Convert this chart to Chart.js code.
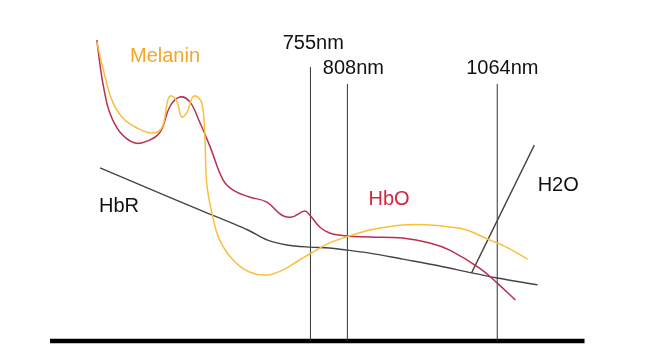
<!DOCTYPE html>
<html>
<head>
<meta charset="utf-8">
<title>Absorption spectra</title>
<script src="https://cdn.jsdelivr.net/npm/chart.js@4/dist/chart.umd.min.js"></script>
<style>
  html, body { margin: 0; padding: 0; background: #ffffff; }
  #wrap { width: 650px; height: 360px; position: relative; }
</style>
</head>
<body>
<div id="wrap"><canvas id="spectra"></canvas></div>
<script>
// wavelengths in nm, absorption in arbitrary units
const melaninNm  = [510, 518, 525, 535, 549, 565, 575, 581, 585, 591, 596, 602, 608, 614, 619, 622, 624, 630, 639, 655, 675, 697, 718, 740, 754, 782, 807, 842, 894, 940, 975, 1006, 1049, 1082, 1125];
const melaninAbs = [99.7, 87.7, 79.7, 74.3, 71.0, 69.3, 71.3, 80.3, 81.7, 79.7, 74.7, 76.3, 81.3, 81.3, 78.7, 67.7, 52.7, 42.7, 33.7, 27.0, 23.0, 22.0, 23.7, 27.0, 29.0, 32.7, 34.7, 37.0, 38.7, 38.7, 38.0, 37.0, 33.7, 31.3, 27.3];

const hboNm  = [510, 513, 516, 522, 532, 547, 560, 573, 583, 594, 605, 616, 628, 643, 655, 675, 697, 716, 729, 747, 754, 768, 782, 807, 842, 894, 940, 975, 1030, 1064, 1100];
const hboAbs = [100.3, 92.0, 85.3, 76.3, 69.7, 66.0, 66.7, 69.7, 78.0, 81.3, 79.7, 73.0, 64.7, 53.7, 50.3, 48.0, 46.3, 42.0, 41.3, 43.3, 42.0, 38.0, 36.0, 35.0, 34.7, 34.3, 32.7, 30.3, 24.3, 19.3, 13.7];

const hbrNm  = [513, 583, 616, 673, 697, 723, 754, 782, 807, 842, 894, 957, 1015, 1064, 1146];
const hbrAbs = [57.7, 47.9, 43.7, 37.0, 33.7, 32.0, 31.3, 31.0, 30.3, 29.3, 27.3, 25.0, 22.7, 21.0, 18.7];

const h2oNm  = [1015, 1139];
const h2oAbs = [22.7, 65.3];

const laserNm  = [755, 808, 1064];
const laserTop = [91.3, 85.7, 85.7];

const axisNm = [468, 1249];

const labelTexts = ['755nm', '808nm', '1064nm', 'Melanin', 'HbR', 'HbO', 'H2O'];
const labelNm    = [759, 817, 1074, 542, 512, 840, 1146];
const labelAbs   = [97.3, 89, 89, 93, 43, 45.3, 50];

const COLORS = {
  melanin: '#fbbe3a',
  melaninText: '#f6a623',
  hbo: '#b9304f',
  hboText: '#d3253f',
  hbr: '#454545',
  line: '#333333',
  text: '#111111',
};
const labelColors = [COLORS.text, COLORS.text, COLORS.text, COLORS.melaninText, COLORS.text, COLORS.hboText, COLORS.text];
const labelAlign  = ['center', 'center', 'center', 'left', 'left', 'left', 'left'];

function toPoints(xs, ys) {
  return xs.map((x, i) => ({ x, y: ys[i] }));
}

function curve(data, color, width, tension) {
  return {
    data,
    borderColor: color,
    borderWidth: width,
    pointRadius: 0,
    fill: false,
    tension: tension,
    clip: false,
  };
}

const datasets = [
  curve(toPoints(melaninNm, melaninAbs), COLORS.melanin, 1.5, 0.4),
  curve(toPoints(hboNm, hboAbs), COLORS.hbo, 1.5, 0.4),
  curve(toPoints(hbrNm, hbrAbs), COLORS.hbr, 1.4, 0.3),
  curve(toPoints(h2oNm, h2oAbs), COLORS.hbr, 1.4, 0),
];

laserNm.forEach((nm, i) => {
  datasets.push(curve([{ x: nm, y: 0 }, { x: nm, y: laserTop[i] }], COLORS.line, 1, 0));
});

// thick baseline
datasets.push(curve([{ x: axisNm[0], y: 0 }, { x: axisNm[1], y: 0 }], '#000000', 4.5, 0));

const textLabels = {
  id: 'textLabels',
  afterDatasetsDraw(chart) {
    const { ctx, scales } = chart;
    ctx.save();
    ctx.font = '20px "Liberation Sans", Arial, sans-serif';
    ctx.textBaseline = 'alphabetic';
    labelTexts.forEach((t, i) => {
      ctx.fillStyle = labelColors[i];
      ctx.textAlign = labelAlign[i];
      ctx.fillText(t, scales.x.getPixelForValue(labelNm[i]), scales.y.getPixelForValue(labelAbs[i]));
    });
    ctx.restore();
  }
};

new Chart(document.getElementById('spectra'), {
  type: 'line',
  data: { datasets },
  options: {
    responsive: true,
    maintainAspectRatio: false,
    animation: false,
    layout: { padding: 0 },
    plugins: {
      legend: { display: false },
      tooltip: { enabled: false },
    },
    scales: {
      x: { type: 'logarithmic', min: 426.9, max: 1408.6, display: false },
      y: { type: 'linear', min: -19 / 3, max: 341 / 3, display: false },
    },
  },
  plugins: [textLabels],
});
</script>
</body>
</html>
